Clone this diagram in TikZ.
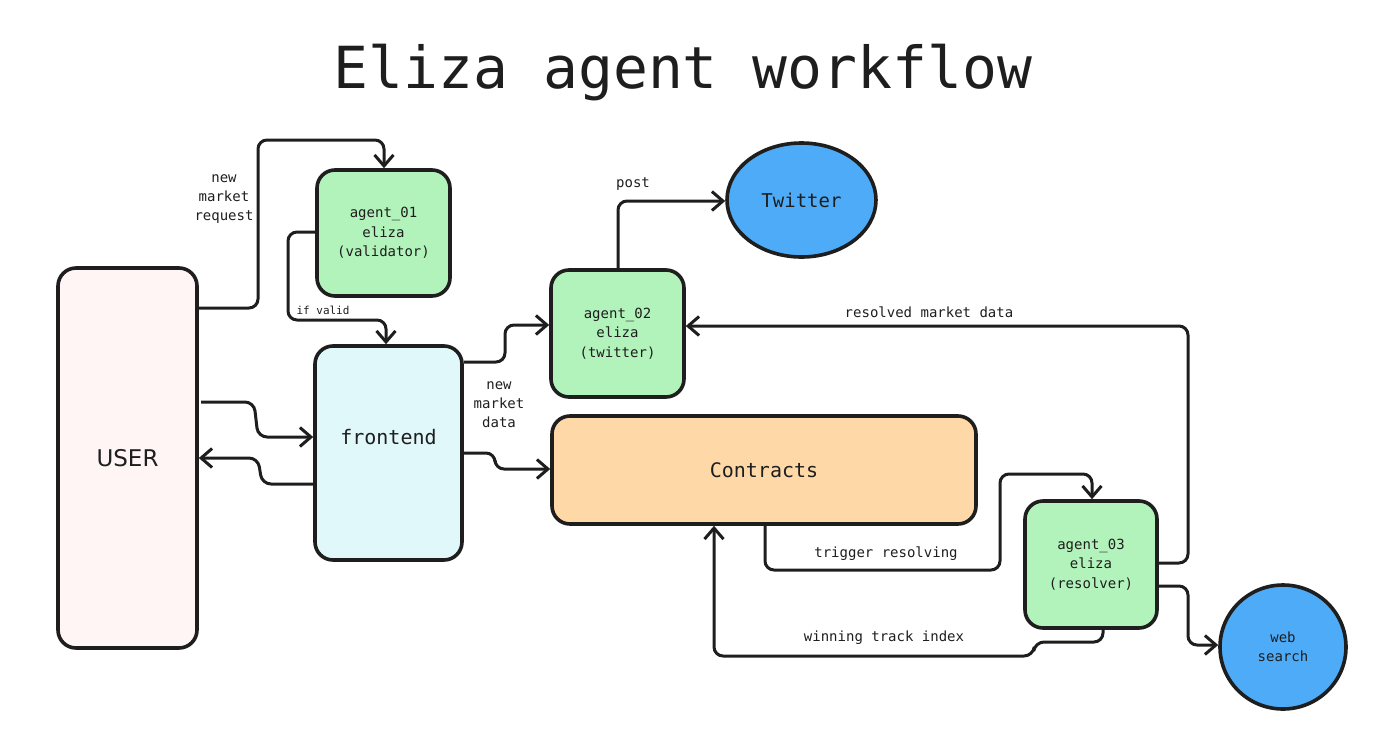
\documentclass[tikz,border=0pt]{standalone}
\usepackage{fontspec}
\setmonofont{DejaVu Sans Mono}
\newfontfamily\userfont{DejaVu Sans}
\usetikzlibrary{arrows.meta,shapes.geometric,calc}
\definecolor{ink}{HTML}{1E1E1E}
\definecolor{greenc}{HTML}{B2F2BB}
\definecolor{cyanc}{HTML}{E1F8FB}
\definecolor{pinkc}{HTML}{FFF5F5}
\definecolor{orangec}{HTML}{FFD8A8}
\definecolor{bluec}{HTML}{4DABF7}
\begin{document}
\begin{tikzpicture}[x=1pt,y=-1pt,
  box/.style={draw=ink, line width=3.6pt, rounded corners=18pt, inner sep=0pt, align=center, text=ink},
  agent/.style={box, fill=greenc, minimum width=133pt, minimum height=126pt, font=\ttfamily\fontsize{14}{19.5}\selectfont},
  blob/.style={draw=ink, line width=3.6pt, ellipse, inner sep=0pt, fill=bluec, align=center, text=ink},
  conn/.style={draw=ink, line width=3pt, rounded corners=9pt, -{Straight Barb[length=11pt,width=19pt]}},
  lbl/.style={inner sep=0pt, align=center, text=ink, font=\ttfamily\fontsize{14}{19}\selectfont}
]
\useasboundingbox (0,0) rectangle (1377,742);

% title
\node[inner sep=0pt, text=ink, font=\ttfamily\fontsize{58}{60}\selectfont] (title) at (683,73) {Eliza agent workflow};

% nodes
\node[box, fill=pinkc, minimum width=139pt, minimum height=380pt, font=\userfont\fontsize{23}{26}\selectfont] (user) at (127.5,458) {USER};
\node[agent] (a1) at (383.5,233) {agent\_01\\eliza\\(validator)};
\node[box, fill=cyanc, minimum width=147pt, minimum height=214pt] (front) at (388.5,453) {};
\node[inner sep=0pt, text=ink, font=\ttfamily\fontsize{20}{24}\selectfont] (fronttext) at (388.5,437) {frontend};
\node[agent, minimum height=127pt] (a2) at (617.5,333.5) {agent\_02\\eliza\\(twitter)};
\node[blob, minimum width=149pt, minimum height=114pt, font=\ttfamily\fontsize{19}{22}\selectfont] (tw) at (801.5,200) {Twitter};
\node[box, fill=orangec, minimum width=424pt, minimum height=108pt, font=\ttfamily\fontsize{20}{24}\selectfont] (con) at (764,470) {Contracts};
\node[agent, minimum width=132pt, minimum height=127pt] (a3) at (1091,564.5) {agent\_03\\eliza\\(resolver)};
\node[blob, minimum width=126pt, minimum height=124pt, font=\ttfamily\fontsize{14}{19.5}\selectfont] (web) at (1283,647) {web\\search};

% connectors
\draw[conn] (user.east |- 0,308) -- (258,308) -- (258,140) -- (384,140) -- (384,0 |- a1.north);
\draw[conn] (a1.west |- 0,232) -- (288,232) -- (288,320) -- (386,320) -- (386,0 |- front.north);
\draw[conn] (201,402) -- (254,402) -- (258,437) -- (front.west |- 0,437);
\draw[conn] (front.west |- 0,484) -- (262,484) -- (258,458) -- (user.east |- 0,458);
\draw[conn] (front.east |- 0,362) -- (505,362) -- (505,325) -- (a2.west |- 0,325);
\draw[conn] (front.east |- 0,453) -- (495,453) -- (495,469) -- (con.west |- 0,469);
\draw[conn] (618,0 |- a2.north) -- (618,201) -- (tw.west |- 0,201);
\draw[conn] (a3.east |- 0,563) -- (1188,563) -- (1188,326) -- (a2.east |- 0,326);
\draw[conn] (765,0 |- con.south) -- (765,570) -- (1000,570) -- (1000,474) -- (1092,474) -- (1092,0 |- a3.north);
\draw[conn] (1103,0 |- a3.south) -- (1103,642) -- (1035,642) -- (1033,656) -- (714,656) -- (714,0 |- con.south);
\draw[conn] (a3.east |- 0,586) -- (1188,586) -- (1188,645) -- (web.west |- 0,645);

% labels
\node[lbl] (l1) at (224,199) {new\\market\\request};
\node[lbl, font=\ttfamily\fontsize{11}{13}\selectfont] (l2) at (323,310) {if valid};
\node[lbl] (l3) at (499,405) {new\\market\\data};
\node[lbl] (l4) at (633,184) {post};
\node[lbl] (l5) at (929,312) {resolved market data};
\node[lbl] (l6) at (886,554) {trigger resolving};
\node[lbl] (l7) at (884,638) {winning track index};
\end{tikzpicture}
\end{document}
